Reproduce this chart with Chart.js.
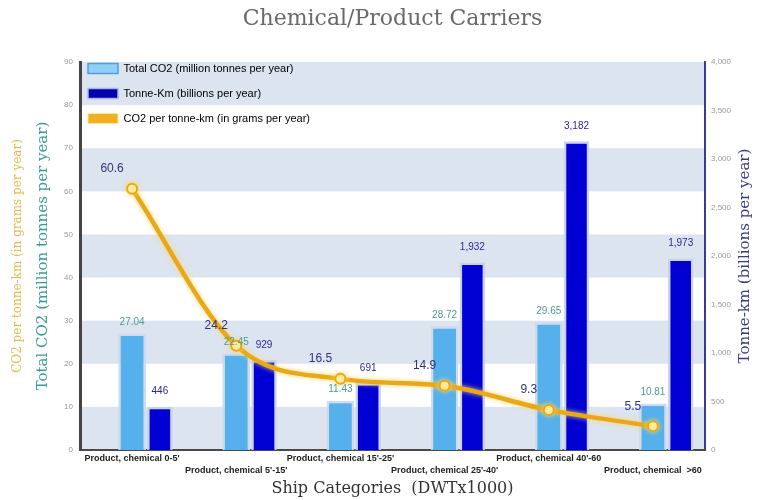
<!DOCTYPE html>
<html><head><meta charset="utf-8">
<script src="https://cdn.jsdelivr.net/npm/chart.js@4/dist/chart.umd.min.js"></script>
<style>html,body{margin:0;padding:0;background:#fff;}#wrap{width:757px;height:500px;}</style>
</head><body><div id="wrap"><canvas id="c" width="757" height="500"></canvas></div>
<script>
const categories = ["Product, chemical 0-5'", "Product, chemical 5'-15'", "Product, chemical 15'-25'", "Product, chemical 25'-40'", "Product, chemical 40'-60", "Product, chemical  >60"];
const totalCO2 = [27.04, 22.45, 11.43, 28.72, 29.65, 10.81];
const tonneKm = [446, 929, 691, 1932, 3182, 1973];
const co2PerTonneKm = [60.6, 24.2, 16.5, 14.9, 9.3, 5.5];
const seriesNames = ["Total CO2 (million tonnes per year)", "Tonne-Km (billions per year)", "CO2 per tonne-km (in grams per year)"];
const leftAxisRange = [0, 90, 10];
const rightAxisRange = [0, 4000, 500];
const chartTitle = "Chemical/Product Carriers";
const xTitle = "Ship Categories  (DWTx1000)";
const leftTitle = "Total CO2 (million tonnes per year)";
const lineTitle = "CO2 per tonne-km (in grams per year)";
const rightTitle = "Tonne-km (billions per year)";

const SERIF = "'DejaVu Serif', serif";
const SANS = "'Liberation Sans', Arial, sans-serif";

const bandsPlugin = {
  id: 'bands',
  beforeDraw(chart) {
    const y = chart.scales.y, a = chart.chartArea, ctx = chart.ctx;
    const ticks = y.ticks;
    ctx.save();
    ctx.fillStyle = '#dce4ef';
    for (let i = 0; i < ticks.length - 1; i++) {
      if (i % 2 === 0) {
        const y0 = y.getPixelForValue(ticks[i].value), y1 = y.getPixelForValue(ticks[i + 1].value);
        ctx.fillRect(a.left, y1, a.right - a.left, y0 - y1);
      }
    }
    ctx.restore();
  }
};

// place the chartArea legend at the top-left corner of the plot
const legendPlacePlugin = {
  id: 'legendPlace',
  afterLayout(chart) {
    const lg = chart.legend, a = chart.chartArea;
    if (!lg) return;
    lg.top = a.top - 13; lg.bottom = a.bottom;
    lg.left = a.left - 6; lg.right = lg.left + lg.width;
  }
};

const glowPlugin = {
  id: 'glow',
  beforeDatasetDraw(chart, args) {
    if (args.meta.type === 'line') {
      const ctx = chart.ctx; ctx.save();
      ctx.shadowColor = 'rgba(255,215,90,0.9)'; ctx.shadowBlur = 5;
    }
  },
  afterDatasetDraw(chart, args) {
    if (args.meta.type === 'line') chart.ctx.restore();
  }
};

const labelsPlugin = {
  id: 'valueLabels',
  afterDatasetsDraw(chart) {
    const ctx = chart.ctx;
    ctx.save();
    ctx.textAlign = 'center'; ctx.textBaseline = 'middle';
    chart.getDatasetMeta(1).data.forEach((el, i) => {
      ctx.font = '10px ' + SANS; ctx.fillStyle = '#4f9a9a';
      ctx.fillText(totalCO2[i].toFixed(2), el.x, el.y - 11);
    });
    chart.getDatasetMeta(2).data.forEach((el, i) => {
      ctx.font = '10px ' + SANS; ctx.fillStyle = '#2a2a90';
      ctx.fillText(tonneKm[i].toLocaleString('en-US'), el.x, el.y - 15);
    });
    chart.getDatasetMeta(3).data.forEach((el, i) => {
      ctx.font = '12px ' + SANS; ctx.fillStyle = '#33337a';
      ctx.fillText(co2PerTonneKm[i].toFixed(1), el.x - 20, el.y - 20);
    });
    ctx.restore();
  }
};

const rightTitlePlugin = {
  id: 'rightTitle',
  afterDraw(chart) {
    const s = chart.scales.y1, ctx = chart.ctx;
    ctx.save();
    ctx.translate(s.right - 12, (s.top + s.bottom) / 2);
    ctx.rotate(-Math.PI / 2);
    ctx.font = '15px ' + SERIF; ctx.fillStyle = '#3b3b8a';
    ctx.textAlign = 'center'; ctx.textBaseline = 'middle';
    ctx.fillText(rightTitle, 0, 0);
    ctx.restore();
  }
};

new Chart(document.getElementById('c'), {
  type: 'bar',
  data: {
    labels: categories,
    datasets: [
      { label: 'spacer', data: categories.map(() => null), yAxisID: 'y', order: 2 },
      { label: seriesNames[0], data: totalCO2, yAxisID: 'y', order: 2,
        backgroundColor: '#55b0ec', borderColor: 'rgba(205,218,235,0.95)', borderWidth: 2.5,
        barPercentage: 1.0, categoryPercentage: 0.8 },
      { label: seriesNames[1], data: tonneKm, yAxisID: 'y1', order: 2,
        backgroundColor: '#0000d2', borderColor: 'rgba(200,208,232,0.95)', borderWidth: 2.5,
        barPercentage: 0.92, categoryPercentage: 0.8 },
      { type: 'line', label: seriesNames[2], data: co2PerTonneKm, yAxisID: 'yLine', order: 0,
        borderColor: '#e9a81a', borderWidth: 4.5, cubicInterpolationMode: 'monotone',
        pointRadius: 5, pointBackgroundColor: '#fff3b0', pointBorderColor: '#e9a81a', pointBorderWidth: 2 }
    ]
  },
  options: {
    responsive: false, animation: false, devicePixelRatio: 1,
    layout: { padding: 0 },
    plugins: {
      tooltip: { enabled: false },
      title: { display: true, text: chartTitle, fullSize: false, color: '#6a6a6a',
        font: { family: SERIF, size: 22, weight: 'normal' }, padding: { top: 6, bottom: 29.6 } },
      legend: {
        position: 'chartArea', align: 'start', onClick: null,
        labels: {
          boxWidth: 30, boxHeight: 10, padding: 14, color: '#333',
          font: { family: SANS, size: 11 },
          generateLabels: () => [
            { text: seriesNames[0], fillStyle: '#8fd0f7', strokeStyle: '#4f9ee0', lineWidth: 1.5, datasetIndex: 1, hidden: false },
            { text: seriesNames[1], fillStyle: '#0000b0', strokeStyle: '#a8b4ee', lineWidth: 1.5, datasetIndex: 2, hidden: false },
            { text: seriesNames[2], fillStyle: '#f0b020', strokeStyle: '#ffe699', lineWidth: 1, datasetIndex: 3, hidden: false }
          ]
        }
      }
    },
    scales: {
      x: {
        grid: { display: false, drawTicks: false },
        border: { display: true, color: '#4a4a4a', width: 2 },
        ticks: { autoSkip: false, maxRotation: 0, minRotation: 0, padding: 2, color: '#222',
          font: { family: SANS, size: 9, weight: 'bold', lineHeight: 1.35 },
          callback: (v, i) => i % 2 === 0 ? [categories[i], ''] : ['', categories[i]] },
        title: { display: true, text: xTitle, color: '#333', font: { family: SERIF, size: 16 }, padding: { top: 0, bottom: 2 } },
        afterFit: s => { s.height = 50; }
      },
      y: {
        position: 'left', weight: 0,
        min: leftAxisRange[0], max: leftAxisRange[1],
        ticks: { stepSize: leftAxisRange[2], color: '#999', font: { family: SANS, size: 8 }, padding: 7 },
        grid: { display: false, drawTicks: false },
        border: { display: true, color: '#444', width: 3 },
        title: { display: true, text: leftTitle, color: '#3a9b9b', font: { family: SERIF, size: 15 }, padding: { top: 4 } },
        afterFit: s => { s.width = 50; }
      },
      yLine: {
        position: 'left', weight: 1,
        min: leftAxisRange[0], max: leftAxisRange[1],
        ticks: { display: false },
        grid: { display: false, drawTicks: false },
        border: { display: false },
        title: { display: true, text: lineTitle, color: '#e8b84a', font: { family: SERIF, size: 12 }, padding: { top: 11 } },
        afterFit: s => { s.width = 30; }
      },
      y1: {
        position: 'right',
        min: rightAxisRange[0], max: rightAxisRange[1],
        ticks: { stepSize: rightAxisRange[2], color: '#999', font: { family: SANS, size: 8 }, padding: 6 },
        grid: { display: false, drawTicks: false },
        border: { display: true, color: '#3b3b88', width: 2 },
        afterFit: s => { s.width = 52; }
      }
    }
  },
  plugins: [bandsPlugin, legendPlacePlugin, glowPlugin, labelsPlugin, rightTitlePlugin]
});
</script></body></html>
